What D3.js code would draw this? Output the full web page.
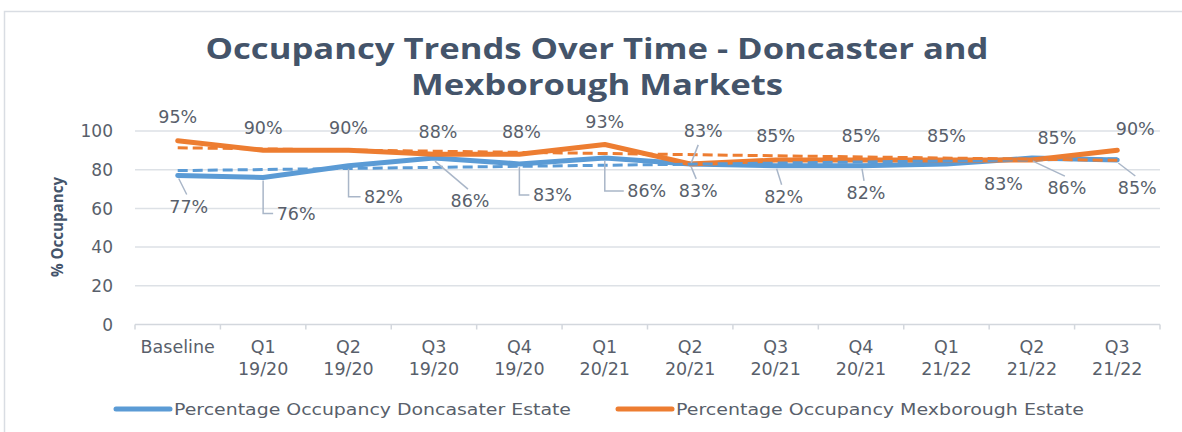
<!DOCTYPE html>
<html>
<head>
<meta charset="utf-8">
<script src="https://cdn.jsdelivr.net/npm/d3@7"></script>
<style>
  html, body { margin: 0; padding: 0; background: #fff; }
  svg { display: block; }
</style>
</head>
<body>
<div id="chart"></div>
<script>
// data
var categories = [["Baseline"], ["Q1", "19/20"], ["Q2", "19/20"], ["Q3", "19/20"], ["Q4", "19/20"],
  ["Q1", "20/21"], ["Q2", "20/21"], ["Q3", "20/21"], ["Q4", "20/21"],
  ["Q1", "21/22"], ["Q2", "21/22"], ["Q3", "21/22"]];
var doncaster = [77, 76, 82, 86, 83, 86, 83, 82, 82, 83, 86, 85];
var mexborough = [95, 90, 90, 88, 88, 93, 83, 85, 85, 85, 85, 90];
var yTicks = [0, 20, 40, 60, 80, 100];
var seriesNames = ["Percentage Occupancy Doncasater Estate", "Percentage Occupancy Mexborough Estate"];
var titleLines = ["Occupancy Trends Over Time - Doncaster and", "Mexborough Markets"];
var yTitle = "% Occupancy";

// label placement (offset of label centre from its point, leader style)
var mexLabelPos = [[0,-24,0],[0,-23,0],[0,-23,0],[4,-23,0],[2,-23,0],[0,-23,0],
  [13,-33,"up"],[0,-24,0],[0,-24,0],[0,-24,0],[25,-22,0],[18,-22,0]];
var donLabelPos = [[11,31,"d"],[33,36,"e"],[35,31,"e"],[36,43,"d"],[33,31,"e"],[42,33,"e"],
  [8,27,"d"],[8,31,"d"],[5,27,"d"],[57,20,0],[35,30,"d"],[20,28,"d"]];

var width = 1182, height = 432;
var blue = "#5B9BD5", orange = "#ED7D31";
var textCol = "#595F6B", titleCol = "#44546A";

var svg = d3.select("#chart").append("svg")
  .attr("width", width).attr("height", height)
  .attr("viewBox", "0 0 " + width + " " + height);

// chart frame
svg.append("path")
  .attr("d", "M4.5," + height + "V11.5H" + width)
  .attr("fill", "none").attr("stroke", "#D9DDE3").attr("stroke-width", 1.5);

var x = d3.scaleBand().domain(d3.range(categories.length)).range([135, 1160]);
var y = d3.scaleLinear().domain([0, 100]).range([324.5, 131]);
var cx = function(i) { return x(i) + x.bandwidth() / 2; };

// title
svg.selectAll(".title").data(titleLines).enter().append("text")
  .attr("class", "title")
  .attr("x", 597).attr("y", function(d, i) { return 59 + i * 36; })
  .attr("text-anchor", "middle")
  .attr("textLength", function(d, i) { return i ? 372 : 783; })
  .attr("lengthAdjust", "spacingAndGlyphs")
  .style("font-family", "'Open Sans'").style("font-weight", "bold")
  .style("font-size", "28px").attr("fill", titleCol)
  .text(function(d) { return d; });

// gridlines + y ticks
svg.selectAll(".grid").data(yTicks.filter(function(d) { return d > 0; })).enter().append("line")
  .attr("x1", 135).attr("x2", 1160)
  .attr("y1", function(d) { return y(d); }).attr("y2", function(d) { return y(d); })
  .attr("stroke", "#DDE1E6").attr("stroke-width", 1.5);

svg.selectAll(".ytick").data(yTicks).enter().append("text")
  .attr("x", 113).attr("y", function(d) { return y(d); })
  .attr("dy", "0.36em").attr("text-anchor", "end")
  .style("font-family", "'DejaVu Sans'").style("font-size", "17px")
  .attr("fill", textCol)
  .text(function(d) { return d; });

// x axis
svg.append("line").attr("x1", 135).attr("x2", 1160)
  .attr("y1", y(0)).attr("y2", y(0))
  .attr("stroke", "#D3D7DD").attr("stroke-width", 1.5);
svg.selectAll(".xtick").data(d3.range(categories.length + 1)).enter().append("line")
  .attr("x1", function(i) { return 135 + i * x.bandwidth(); })
  .attr("x2", function(i) { return 135 + i * x.bandwidth(); })
  .attr("y1", y(0)).attr("y2", y(0) + 5)
  .attr("stroke", "#D3D7DD").attr("stroke-width", 1.5);

var cat = svg.selectAll(".cat").data(categories).enter().append("text")
  .attr("x", function(d, i) { return cx(i); })
  .attr("y", 353)
  .attr("text-anchor", "middle")
  .style("font-family", "'DejaVu Sans'").style("font-size", "17.5px")
  .attr("fill", textCol);
cat.selectAll("tspan").data(function(d) { return d; }).enter().append("tspan")
  .attr("x", function() { return d3.select(this.parentNode).attr("x"); })
  .attr("dy", function(d, i) { return i ? 22 : 0; })
  .text(function(d) { return d; });

// y title
svg.append("text")
  .attr("transform", "translate(63,227) rotate(-90)")
  .attr("text-anchor", "middle")
  .attr("textLength", 100).attr("lengthAdjust", "spacingAndGlyphs")
  .style("font-family", "'Open Sans'").style("font-weight", "bold").style("font-size", "16px")
  .attr("fill", titleCol)
  .text(yTitle);

// series
var line = d3.line().x(function(d, i) { return cx(i); }).y(function(d) { return y(d); });

function trend(vals) {
  var n = vals.length, mx = d3.mean(d3.range(n)), my = d3.mean(vals);
  var sxy = d3.sum(vals, function(v, i) { return (i - mx) * (v - my); });
  var sxx = d3.sum(vals, function(v, i) { return (i - mx) * (i - mx); });
  var b = sxy / sxx;
  return [[0, my - b * mx], [n - 1, my + b * (n - 1 - mx)]];
}

[[doncaster, blue], [mexborough, orange]].forEach(function(s) {
  svg.append("path").attr("d", line(s[0]))
    .attr("fill", "none").attr("stroke", s[1]).attr("stroke-width", 5)
    .attr("stroke-linejoin", "round").attr("stroke-linecap", "round");
});
[[doncaster, blue], [mexborough, orange]].forEach(function(s) {
  var t = trend(s[0]);
  svg.append("line")
    .attr("x1", cx(t[0][0])).attr("y1", y(t[0][1]))
    .attr("x2", cx(t[1][0])).attr("y2", y(t[1][1]))
    .attr("stroke", s[1]).attr("stroke-width", 3).attr("stroke-dasharray", "10,5");
});

// data labels + leaders
function drawLabels(vals, pos) {
  vals.forEach(function(v, i) {
    var px = cx(i), py = y(v), p = pos[i];
    var lx = px + p[0], ly = py + p[1];
    var lead = null;
    if (p[2] === "d") lead = "M" + (px + 1) + "," + (py + 3) + "L" + (lx - 2) + "," + (ly - 12);
    if (p[2] === "e") lead = "M" + px + "," + (py + 3) + "V" + ly + "H" + (lx - 23);
    if (p[2] === "up") lead = "M" + (lx - 5) + "," + (ly + 14) + "L" + (px + 1) + "," + (py - 1);
    if (lead) svg.append("path").attr("d", lead)
      .attr("fill", "none").attr("stroke", "#A9B6C8").attr("stroke-width", 1.5);
    svg.append("text")
      .attr("x", lx).attr("y", ly).attr("dy", "0.36em")
      .attr("text-anchor", "middle")
      .style("font-family", "'DejaVu Sans'").style("font-size", "17.5px")
      .attr("fill", textCol)
      .text(v + "%");
  });
}
drawLabels(mexborough, mexLabelPos);
drawLabels(doncaster, donLabelPos);

// legend
var legend = svg.selectAll(".legend").data(seriesNames).enter().append("g")
  .attr("transform", function(d, i) { return "translate(" + (i ? 618 : 116) + ",409)"; });
legend.append("line").attr("x1", 0).attr("x2", 54)
  .attr("stroke", function(d, i) { return i ? orange : blue; })
  .attr("stroke-width", 5).attr("stroke-linecap", "round");
legend.append("text").attr("x", 58).attr("y", 0).attr("dy", "0.36em")
  .attr("textLength", function(d, i) { return i ? 408 : 397; })
  .attr("lengthAdjust", "spacingAndGlyphs")
  .style("font-family", "'DejaVu Sans'").style("font-size", "16px")
  .attr("fill", textCol)
  .text(function(d) { return d; });
</script>
</body>
</html>
